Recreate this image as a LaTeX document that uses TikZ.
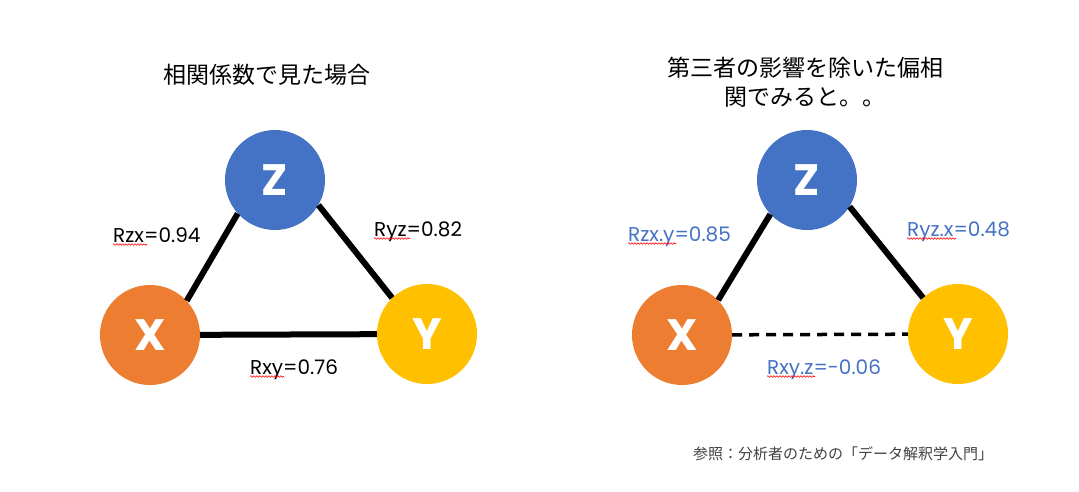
\documentclass[tikz,border=0pt]{standalone}
\usepackage{fontspec}
\setmainfont{Poppins}
\newfontfamily\jpfont{Noto Sans CJK JP}
\usetikzlibrary{positioning,decorations.pathmorphing}
\definecolor{zblue}{HTML}{4472C4}
\definecolor{xorange}{HTML}{ED7D31}
\definecolor{ygold}{HTML}{FFC000}
\definecolor{refgray}{HTML}{404040}

\begin{document}
\begin{tikzpicture}[x=1pt,y=-1pt,
    var/.style={circle, minimum size=100pt, inner sep=0pt, text=white, font=\fontsize{44}{44}\selectfont\bfseries},
    corr/.style={line width=6pt},
    partial/.style={line width=3.5pt, dash pattern=on 10pt off 7pt},
    lbl/.style={anchor=base west, inner sep=0pt, font=\fontsize{20}{20}\selectfont},
    squig/.style={red, line width=0.6pt, decorate, decoration={snake, amplitude=0.8pt, segment length=3pt}},
    heading/.style={font=\jpfont\fontsize{23}{29}\selectfont, align=center}]
    \useasboundingbox (0,0) rectangle (1079,491);

    % Left: correlation
    \node[heading] (titleL) at (267,75) {相関係数で見た場合};
    \node[var, fill=zblue] (zL) at (275,180) {Z};
    \node[var, fill=xorange] (xL) at (150,335) {X};
    \node[var, fill=ygold] (yL) at (427,334) {Y};
    \draw[corr] (zL.222) -- (xL.43);
    \draw[corr] (zL.330) -- (yL.134);
    \draw[corr] (xL) -- (yL);
    \node[lbl] (rzx) at (113,242) {Rzx=0.94};
    \node[lbl] (ryz) at (374,236) {Ryz=0.82};
    \node[lbl] (rxy) at (250,374) {Rxy=0.76};
    \draw[squig] ([yshift=-2.5pt]rzx.base west) -- ++(34,0);
    \draw[squig] ([yshift=-2.5pt]ryz.base west) -- ++(36,0);
    \draw[squig] ([yshift=-2.5pt]rxy.base west) -- ++(34,0);

    % Right: partial correlation
    \node[heading] (titleR) at (805,82) {第三者の影響を除いた偏相\\関でみると。。};
    \node[var, fill=zblue] (zR) at (807,180) {Z};
    \node[var, fill=xorange] (xR) at (682,335) {X};
    \node[var, fill=ygold] (yR) at (958,334) {Y};
    \draw[corr] (zR.223) -- (xR.44);
    \draw[corr] (zR.328) -- (yR.134);
    \draw[partial] (xR) -- (yR);
    \node[lbl, text=zblue] (pzx) at (628,241) {Rzx.y=0.85};
    \node[lbl, text=zblue] (pyz) at (907,236) {Ryz.x=0.48};
    \node[lbl, text=zblue] (pxy) at (767,374) {Rxy.z=-0.06};
    \draw[squig] ([yshift=-2.5pt]pzx.base west) -- ++(48,0);
    \draw[squig] ([yshift=-2.5pt]pyz.base west) -- ++(49,0);
    \draw[squig] ([yshift=-2.5pt]pxy.base west) -- ++(48,0);

    % Source
    \node[font=\jpfont\fontsize{15}{15}\selectfont, text=refgray] (src) at (843,454) {参照：分析者のための「データ解釈学入門」};
\end{tikzpicture}
\end{document}
